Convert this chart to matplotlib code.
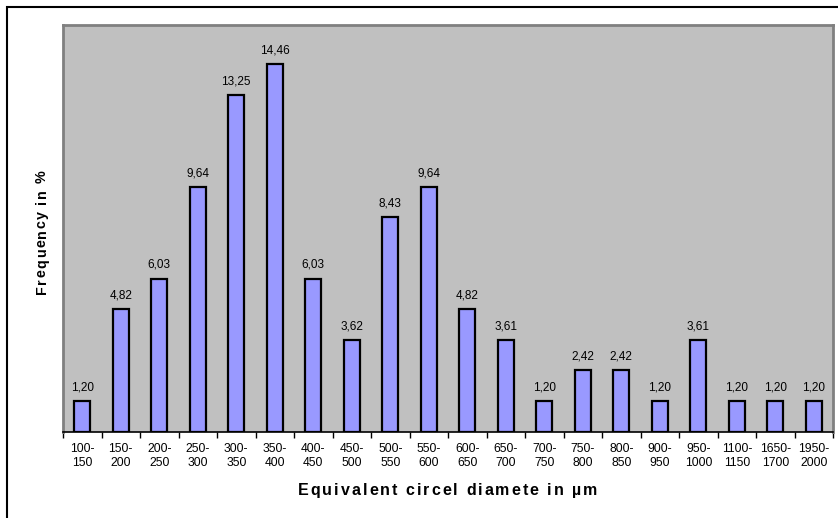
import numpy as np
import matplotlib.pyplot as plt
from matplotlib.patches import Rectangle

plt.rcParams["font.family"] = ["Liberation Sans", "DejaVu Sans"]

bins = ["100-\n150", "150-\n200", "200-\n250", "250-\n300", "300-\n350",
        "350-\n400", "400-\n450", "450-\n500", "500-\n550", "550-\n600",
        "600-\n650", "650-\n700", "700-\n750", "750-\n800", "800-\n850",
        "900-\n950", "950-\n1000", "1100-\n1150", "1650-\n1700", "1950-\n2000"]
freq = [1.20, 4.82, 6.03, 9.64, 13.25, 14.46, 6.03, 3.62, 8.43, 9.64,
        4.82, 3.61, 1.20, 2.42, 2.42, 1.20, 3.61, 1.20, 1.20, 1.20]

fig = plt.figure(figsize=(8.38, 5.18), dpi=100)
ax = fig.add_axes([0.0752, 0.166, 0.919, 0.786])
ax.set_facecolor("#C0C0C0")

x = np.arange(len(bins))
ax.bar(x, freq, width=0.42, color="#9999FF", edgecolor="black", linewidth=1.6, zorder=3)

for xi, v in zip(x, freq):
    ax.text(xi, v + 0.3, f"{v:.2f}".replace(".", ","), ha="center", va="bottom",
            fontsize=8.5, color="black")

ax.set_xlim(-0.5, len(bins) - 0.5)
ax.set_ylim(0, 16)
ax.set_yticks([])
ax.set_xticks(x)
ax.set_xticklabels(bins, fontsize=8.7, linespacing=1.25)
ax.set_xticks(np.arange(-0.5, len(bins)), minor=True)
ax.tick_params(axis="x", which="major", length=0, pad=8)
ax.tick_params(axis="x", which="minor", length=4, width=1, direction="out", color="black")

for side in ["left", "top", "right"]:
    ax.spines[side].set_color("#808080")
    ax.spines[side].set_linewidth(2)
ax.spines["bottom"].set_color("black")
ax.spines["bottom"].set_linewidth(1.2)

# outer chart frame
fig.patches.append(Rectangle((0.0085, -0.05), 1.1, 1.036, transform=fig.transFigure,
                             fill=False, edgecolor="black", linewidth=1.5))

renderer = fig.canvas.get_renderer()


def spaced_text(s, cx, cy, gap, rotation=0, **kw):
    # lay out characters one by one with extra tracking
    pieces = []
    widths = []
    for ch in s:
        t = fig.text(0, 0, ch if ch != " " else "\u00a0", rotation=rotation,
                     ha="center", va="center", **kw)
        bb = t.get_window_extent(renderer)
        w = bb.height if rotation else bb.width
        if ch == " ":
            w = max(w, 3)
        pieces.append(t)
        widths.append(w)
    total = sum(widths) + gap * (len(s) - 1)
    pos = -total / 2
    W, H = fig.bbox.width, fig.bbox.height
    for t, w in zip(pieces, widths):
        c = pos + w / 2
        if rotation:
            t.set_position((cx, cy + c / H))
        else:
            t.set_position((cx + c / W, cy))
        pos += w + gap


spaced_text("Equivalent circel diamete in µm", 0.534, 0.054, 2.0,
            fontsize=11.5, fontweight="bold")
spaced_text("Frequency in %", 0.05, 0.552, 1.4, rotation=90,
            fontsize=10.3, fontweight="bold")

fig.savefig("out.png", dpi=100)
